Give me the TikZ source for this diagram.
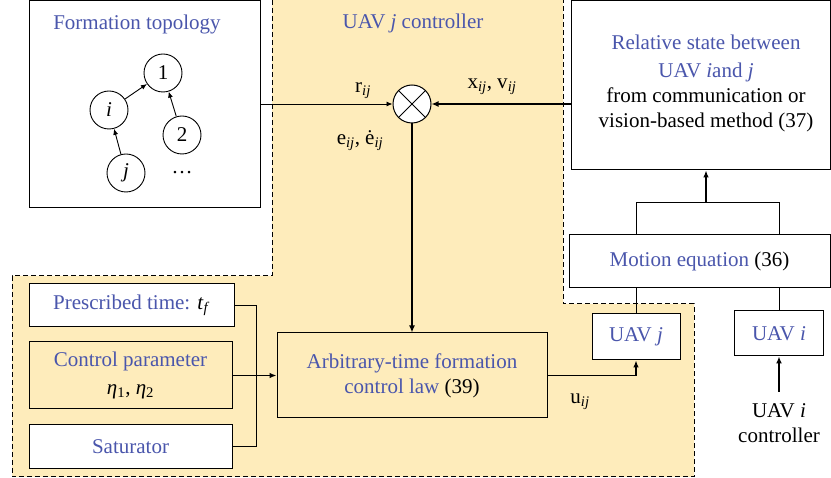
\documentclass[tikz,border=0pt]{standalone}
\usepackage{fontspec}
\setmainfont{Liberation Serif}
\usetikzlibrary{arrows.meta,calc}
\definecolor{bg}{RGB}{254,236,187}
\definecolor{tb}{RGB}{74,86,172}
\begin{document}
\begin{tikzpicture}[x=1pt,y=-1pt,font=\fontsize{21}{25}\selectfont,
  bx/.style={draw,line width=1pt,inner sep=0pt,align=center},
  cn/.style={draw,circle,line width=0.9pt,minimum size=38pt,inner sep=0pt,fill=white},
  dsh/.style={line width=1pt,dash pattern=on 5pt off 3pt},
  thin arr/.style={line width=0.9pt,-{Latex[length=6pt,width=5pt]}},
  mid arr/.style={line width=1.2pt,-{Latex[length=7pt,width=5.5pt]}},
  thick arr/.style={line width=1.9pt,-{Latex[length=7pt,width=6pt]}},
  ln/.style={line width=1pt}]
\useasboundingbox (0,0) rectangle (831,478);
% controller region
\fill[bg] (272,0) -- (272,276) -- (12,276) -- (12,477) -- (694,477) -- (694,304) -- (563,304) -- (563,0) -- cycle;
\draw[dsh] (272,0) -- (272,276) -- (12,276) -- (12,477) -- (694,477) -- (694,304) -- (563,304) -- (563,0);
\node[tb] (ctitle) at (413,23) {UAV \textit{j} controller};
% formation topology
\node[bx,fill=white,minimum width=231pt,minimum height=207pt] (topo) at (144.5,104.5) {};
\node[tb] (topot) at (137,24) {Formation topology};
\node[cn] (n1) at (163,73) {1};
\node[cn] (ni) at (109,110) {\textit{i}};
\node[cn] (n2) at (182,135) {2};
\node[cn] (nj) at (126,173) {\textit{j}};
\node (dots) at (182,173) {\dots};
\draw[thin arr] (ni) -- (n1);
\draw[thin arr] (n2) -- (n1);
\draw[thin arr] (nj) -- (ni);
% comparator
\node[draw,circle,fill=white,minimum size=38pt,inner sep=0pt,line width=1pt] (cross) at (412,104) {};
\draw[ln] (cross.north west) -- (cross.south east);
\draw[ln] (cross.north east) -- (cross.south west);
% relative state
\node[bx,fill=white,minimum width=259pt,minimum height=169pt] (rel) at (700.5,85.5) {};
\node[align=center] (relt) at (706,83) {\textcolor{tb}{Relative state between}\\[3pt]\textcolor{tb}{UAV \textit{i}and \textit{j}}\\from communication or\\vision-based method (37)};
% motion
\node[bx,fill=white,minimum width=261pt,minimum height=53pt] (mot) at (699.5,261.5) {\textcolor{tb}{Motion equation} (36)};
\node[bx,fill=white,minimum width=88pt,minimum height=46pt] (uavj) at (636,337) {\textcolor{tb}{UAV \textit{j}}};
\node[bx,fill=white,minimum width=89pt,minimum height=45pt] (uavi) at (779,333.5) {\textcolor{tb}{UAV \textit{i}}};
\node[align=center] (ictrl) at (779,423) {UAV \textit{i}\\controller};
% control law and inputs
\node[bx,minimum width=270pt,minimum height=85pt] (law) at (412,375.5) {\textcolor{tb}{Arbitrary-time formation}\\\textcolor{tb}{control law} (39)};
\node[bx,fill=white,minimum width=205pt,minimum height=43pt] (pt) at (131.5,305.5) {\textcolor{tb}{Prescribed time:} \textit{t}\textsubscript{\textit{f}}};
\node[bx,minimum width=203pt,minimum height=67pt] (cp) at (130.5,375.5) {\textcolor{tb}{Control parameter}\\[3pt]\textit{η}\textsubscript{1}, \textit{η}\textsubscript{2}};
\node[bx,fill=white,minimum width=203pt,minimum height=44pt] (sat) at (130.5,447) {\textcolor{tb}{Saturator}};
% labels
\node (rij) at (363,91) {r\textsubscript{\textit{ij}}};
\node (xv) at (492,87) {x\textsubscript{\textit{ij}}, v\textsubscript{\textit{ij}}};
\node (ee) at (360,141) {e\textsubscript{\textit{ij}}, ė\textsubscript{\textit{ij}}};
\node (uij) at (580,402) {u\textsubscript{\textit{ij}}};
% connectors
\coordinate (jn) at (256,375.5);
\coordinate (b1) at (636,203);
\coordinate (b2) at (779,203);
\coordinate (bm) at (706,203);
\draw[thin arr] (topo.east |- cross) -- (cross.west);
\draw[thick arr] (rel.west |- cross) -- (cross.east);
\draw[thick arr] (cross.south) -- (law.north);
\draw[ln] (pt.east) -| (jn);
\draw[ln] (sat.east) -| (jn);
\draw[mid arr] (cp.east) -- (law.west);
\draw[mid arr] (law.east) -| (uavj.south);
\draw[ln] (uavj.north |- mot.south) -- (uavj.north);
\draw[ln] (uavi.north |- mot.south) -- (uavi.north);
\draw[ln] (uavj.north |- mot.north) -- (b1) -- (b2) -- (uavi.north |- mot.north);
\draw[mid arr] (bm) -- (bm |- rel.south);
\draw[thick arr] ([yshift=8pt]ictrl.north) -- (uavi.south);
\end{tikzpicture}
\end{document}
